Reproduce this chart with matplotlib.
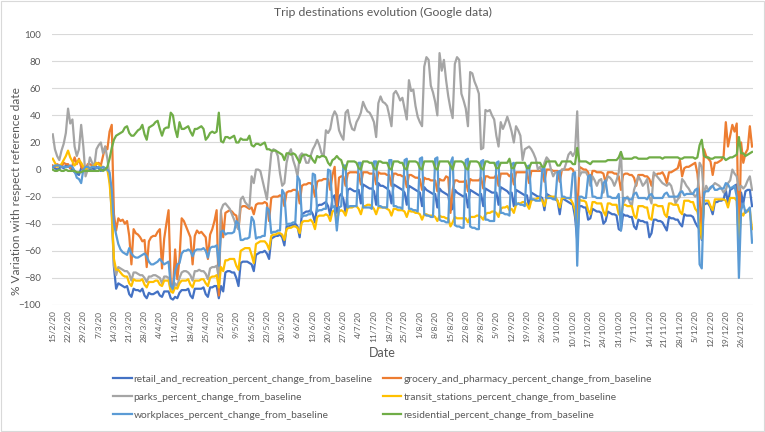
import matplotlib
matplotlib.use('Agg')
import matplotlib.pyplot as plt
import pandas as pd
from matplotlib.patches import Rectangle

plt.rcParams['font.family'] = ['Lato', 'DejaVu Sans']

# daily values, one row per week (Sat..Fri), starting 15/2/2020
retail = [
    2, 1, 0, 1, 2, 1, 3,
    3, 1, 0, -2, -3, -4, 1,
    2, 0, 1, 0, 1, 0, 2,
    1, -1, 0, 1, 0, -5, -28,
    -72, -88, -84, -85, -86, -87, -86,
    -92, -94, -88, -89, -89, -90, -88,
    -93, -95, -91, -92, -92, -91, -90,
    -93, -94, -90, -90, -90, -95, -96,
    -94, -95, -91, -89, -89, -89, -88,
    -93, -95, -88, -88, -88, -88, -87,
    -92, -94, -87, -87, -86, -86, -95,
    -86, -90, -76, -75, -75, -76, -76,
    -80, -86, -69, -68, -68, -68, -69,
    -70, -75, -63, -62, -61, -61, -60,
    -62, -66, -51, -50, -49, -49, -48,
    -50, -56, -42, -42, -41, -41, -40,
    -42, -50, -33, -32, -31, -31, -30,
    -33, -39, -27, -26, -26, -25, -24,
    -27, -34, -21, -19, -32, -20, -18,
    -22, -32, -15, -14, -15, -16, -16,
    -15, -25, -11, -12, -13, -14, -14,
    -16, -26, -10, -12, -12, -13, -14,
    -16, -25, -11, -12, -13, -14, -15,
    -17, -26, -12, -13, -14, -15, -16,
    -17, -27, -13, -15, -16, -17, -18,
    -18, -28, -14, -16, -17, -18, -19,
    -30, -29, -15, -17, -18, -19, -20,
    -18, -28, -15, -16, -17, -18, -19,
    -18, -27, -14, -15, -16, -17, -17,
    -17, -26, -13, -14, -15, -16, -18,
    -17, -27, -15, -16, -17, -18, -19,
    -19, -28, -17, -18, -19, -20, -20,
    -21, -30, -18, -19, -20, -21, -22,
    -23, -33, -21, -22, -23, -24, -25,
    -26, -35, -52, -27, -27, -28, -28,
    -37, -36, -29, -30, -31, -31, -32,
    -40, -38, -31, -32, -33, -33, -34,
    -44, -45, -33, -34, -34, -35, -35,
    -42, -44, -37, -38, -38, -39, -39,
    -50, -47, -37, -37, -38, -38, -39,
    -42, -45, -35, -36, -36, -37, -37,
    -40, -42, -33, -34, -34, -34, -35,
    -39, -42, -44, -52, -26, -25, -25,
    -28, -33, -24, -24, -23, -23, -22,
    -15, -25, -15, -14, -12, -11, -60,
    -17, -25, -16, -15, -15, -27,
]
grocery = [
    3, 2, 4, 3, 2, 5, 4,
    4, 1, 3, 9, 4, 8, 2,
    0, 0, 4, 4, 3, 2, 4,
    5, 3, 10, 17, 15, 28, 33,
    -33, -45, -36, -38, -37, -40, -38,
    -49, -70, -44, -47, -48, -50, -53,
    -52, -72, -53, -50, -49, -49, -46,
    -44, -73, -51, -40, -30, -84, -88,
    -59, -81, -66, -36, -38, -42, -46,
    -50, -70, -49, -45, -47, -46, -48,
    -50, -66, -48, -44, -38, -30, -93,
    -32, -50, -32, -31, -30, -31, -33,
    -34, -44, -28, -27, -27, -28, -29,
    -28, -33, -26, -25, -25, -25, -24,
    -25, -38, -21, -20, -20, -20, -19,
    -20, -27, -17, -16, -16, -15, -15,
    -16, -25, -12, -11, -11, -10, -10,
    -12, -20, -9, -8, -8, -7, -7,
    -7, -15, -4, 2, -27, -6, -5,
    -5, -12, -3, -2, -2, -2, -2,
    -3, -11, -2, -2, -2, -3, -3,
    -3, -11, -2, -3, -3, -3, -4,
    -4, -12, -3, -3, -4, -4, -5,
    -5, -13, -4, -4, -5, -6, -6,
    -7, -15, -6, -7, -7, -8, -8,
    -8, -16, -7, -8, -8, -5, -6,
    -32, -15, -8, -8, -9, -9, -9,
    -8, -16, -7, -8, -8, -8, -8,
    -6, -14, -5, -5, -6, -6, -6,
    -4, -12, -3, -3, -3, -3, -5,
    -3, -11, -2, -2, -2, -2, -2,
    -2, -10, -1, -1, -1, -1, -1,
    -1, -9, 0, 0, 0, -1, -1,
    -1, -9, 0, 0, 0, 0, 1,
    0, -5, -35, 2, 1, 0, 0,
    -2, -9, -1, -1, -2, -2, -2,
    -3, -10, -2, -2, -2, -3, -3,
    -5, -15, -4, -3, -3, -4, -4,
    -6, -12, -4, -4, -4, -5, -5,
    -7, -12, -4, -4, -3, -3, -2,
    -5, -10, -2, -2, -1, 0, 1,
    7, -5, 1, 2, 2, 3, 4,
    5, -3, -20, -49, 15, 10, 8,
    6, -4, 5, 5, 6, 7, 10,
    35, 17, 25, 33, 28, 34, -60,
    20, 5, 12, 15, 32, 17,
]
parks = [
    26, 15, 10, 7, 14, 19, 27,
    45, 34, 37, 17, 10, 15, 33,
    17, -5, 0, 9, 5, 2, 15,
    18, 20, 12, 17, 8, -5, -34,
    -71, -78, -72, -73, -74, -75, -75,
    -77, -82, -76, -76, -77, -78, -78,
    -80, -83, -79, -79, -78, -78, -79,
    -80, -84, -79, -79, -80, -88, -89,
    -84, -86, -80, -76, -75, -75, -76,
    -78, -82, -75, -75, -74, -75, -75,
    -77, -81, -73, -72, -72, -71, -80,
    -30, -26, -25, -27, -29, -33, -37,
    -42, -44, -22, -20, -24, -26, -28,
    -5, -10, 0, 0, -1, -8, -15,
    -22, -5, 12, 15, 14, 10, -3,
    -12, -10, 5, 12, 15, 7, 2,
    -5, 10, 12, 10, 5, 5, 10,
    15, 18, 22, 18, 12, 10, 29,
    27, 30, 39, 43, 40, 29, 25,
    22, 42, 44, 35, 30, 29, 35,
    38, 42, 50, 46, 43, 42, 39,
    35, 24, 49, 54, 50, 49, 47,
    40, 32, 56, 58, 55, 51, 53,
    45, 37, 66, 58, 59, 47, 39,
    35, 32, 76, 83, 81, 62, 57,
    50, 40, 86, 73, 81, 66, 54,
    45, 38, 78, 83, 81, 56, 51,
    45, 32, 72, 71, 65, 61, 56,
    15, 16, 44, 43, 44, 40, 37,
    25, 17, 35, 30, 34, 39, 34,
    28, 20, 32, 29, 25, 7, 15,
    16, 17, 15, 12, 8, 0, 2,
    -2, 5, 9, 7, 0, -5, -2,
    -2, -2, 0, 0, 5, 11, 13,
    10, 13, 43, -5, -2, -2, -2,
    -5, -12, -5, -8, -12, -8, -7,
    -17, -10, -5, -6, -8, -12, -8,
    -2, 13, -25, -22, -20, -24, -27,
    -15, -10, -5, -8, -12, -10, -7,
    -20, -25, -2, -4, -6, -8, -10,
    -11, -12, -10, -12, -18, -25, -22,
    -20, -7, -9, -12, -14, -17, -18,
    -20, -18, 5, 2, -20, -12, -15,
    -14, -12, -10, -11, -12, -14, -17,
    -15, -10, -8, 0, -3, -5, -15,
    -12, -14, -12, -8, -5, -15,
]
transit = [
    8, 5, 2, 3, 4, 7, 10,
    14, 9, 6, 3, 5, 7, 5,
    2, 0, 2, 1, 2, 3, 5,
    4, 2, 2, 1, 0, -10, -30,
    -66, -74, -74, -76, -78, -79, -79,
    -84, -86, -81, -82, -82, -82, -81,
    -85, -87, -83, -83, -83, -82, -82,
    -85, -86, -82, -82, -82, -90, -91,
    -87, -88, -84, -82, -82, -82, -81,
    -85, -87, -82, -82, -82, -81, -81,
    -84, -86, -80, -79, -79, -78, -87,
    -72, -75, -67, -67, -66, -66, -66,
    -71, -74, -60, -59, -58, -58, -58,
    -63, -69, -55, -54, -53, -53, -53,
    -55, -59, -49, -48, -48, -47, -47,
    -48, -52, -44, -43, -43, -42, -42,
    -43, -47, -39, -38, -38, -38, -37,
    -39, -44, -35, -34, -34, -34, -33,
    -34, -38, -31, -30, -38, -31, -30,
    -31, -34, -28, -28, -28, -27, -27,
    -29, -33, -27, -27, -26, -26, -27,
    -29, -33, -28, -28, -28, -28, -29,
    -30, -34, -29, -29, -30, -30, -30,
    -31, -35, -30, -31, -31, -32, -32,
    -33, -37, -33, -33, -34, -34, -34,
    -35, -38, -34, -35, -35, -36, -36,
    -42, -39, -35, -36, -36, -36, -36,
    -36, -39, -35, -35, -35, -34, -34,
    -35, -37, -33, -32, -32, -31, -31,
    -32, -35, -29, -28, -28, -27, -30,
    -29, -32, -26, -25, -25, -24, -24,
    -26, -29, -23, -22, -22, -21, -21,
    -23, -27, -21, -20, -20, -20, -20,
    -23, -28, -21, -21, -21, -21, -22,
    -25, -30, -45, -22, -23, -23, -24,
    -30, -33, -24, -24, -25, -25, -25,
    -31, -34, -25, -25, -26, -26, -26,
    -33, -34, -26, -26, -27, -27, -27,
    -34, -36, -27, -27, -27, -28, -28,
    -36, -37, -26, -26, -27, -27, -27,
    -33, -35, -25, -25, -26, -26, -26,
    -31, -33, -23, -23, -23, -24, -24,
    -29, -31, -40, -51, -23, -23, -23,
    -27, -30, -22, -22, -22, -22, -22,
    -23, -28, -21, -21, -21, -23, -54,
    -32, -34, -30, -31, -30, -44,
]
workplaces = [
    2, 3, 3, 3, 2, 2, 2,
    2, 3, 2, -1, -6, -7, -10,
    0, 2, 2, 1, 2, 2, 1,
    2, 1, 2, 1, 0, -2, -15,
    -40, -48, -55, -59, -61, -62, -63,
    -58, -62, -64, -65, -65, -64, -63,
    -62, -64, -68, -70, -70, -69, -68,
    -66, -68, -70, -69, -68, -86, -88,
    -75, -70, -69, -62, -60, -60, -59,
    -60, -64, -60, -59, -59, -59, -58,
    -60, -65, -58, -57, -57, -56, -71,
    -46, -45, -48, -47, -47, -47, -46,
    -38, -40, -52, -52, -51, -51, -50,
    -35, -38, -51, -50, -50, -49, -49,
    -28, -30, -47, -46, -46, -45, -45,
    -15, -18, -41, -40, -40, -39, -39,
    -5, -8, -35, -34, -34, -33, -33,
    -3, -4, -31, -30, -30, -29, -29,
    0, -1, -28, -27, -45, -28, -27,
    3, 3, -28, -27, -27, -27, -27,
    5, 5, -28, -28, -28, -28, -29,
    6, 6, -27, -27, -28, -28, -28,
    7, 7, -27, -27, -28, -28, -29,
    7, 8, -29, -29, -30, -30, -31,
    8, 9, -33, -34, -34, -35, -35,
    8, 9, -37, -38, -38, -39, -39,
    5, 9, -41, -42, -42, -43, -43,
    7, 8, -42, -43, -43, -44, -44,
    6, 7, -37, -37, -38, -38, -38,
    5, 6, -32, -32, -33, -33, -34,
    4, 5, -26, -25, -26, -26, -27,
    2, 3, -22, -22, -23, -23, -23,
    0, 1, -21, -21, -21, -22, -22,
    -2, -1, -20, -20, -21, -21, -21,
    -3, -2, -71, -20, -20, -21, -21,
    -5, -4, -20, -20, -21, -21, -21,
    -10, -8, -20, -20, -21, -21, -21,
    -18, -45, -21, -21, -21, -22, -22,
    -18, -17, -21, -21, -21, -21, -22,
    -19, -18, -21, -21, -21, -21, -21,
    -18, -17, -20, -20, -20, -20, -20,
    -17, -16, -19, -18, -18, -18, -18,
    -15, -14, -70, -73, -17, -16, -16,
    -13, -12, -15, -15, -14, -14, -14,
    -10, -11, -14, -13, -12, -20, -80,
    -30, -25, -32, -30, -28, -54,
]
residential = [
    0, -1, -1, 0, -1, -1, 0,
    -1, -1, -1, -1, -2, -2, -2,
    -1, -1, -1, -1, -1, -1, -1,
    -1, 0, -1, 0, 2, 8, 16,
    22, 25, 26, 27, 28, 31, 32,
    27, 25, 25, 27, 29, 30, 33,
    26, 22, 31, 32, 33, 35, 36,
    30, 25, 30, 31, 31, 42, 40,
    30, 24, 35, 30, 30, 31, 32,
    28, 25, 30, 30, 31, 32, 30,
    22, 24, 27, 28, 27, 28, 42,
    21, 20, 24, 24, 23, 24, 25,
    20, 20, 23, 22, 22, 22, 25,
    18, 17, 19, 19, 18, 19, 20,
    15, 15, 14, 14, 14, 13, 12,
    11, 7, 12, 12, 11, 12, 11,
    8, 5, 10, 11, 11, 10, 10,
    7, 5, 10, 9, 10, 10, 9,
    5, 3, 7, 8, 10, 8, 7,
    2, 0, 6, 6, 6, 6, 5,
    1, 0, 6, 6, 6, 5, 5,
    1, 0, 6, 6, 5, 5, 5,
    1, 0, 6, 6, 6, 5, 5,
    1, 0, 6, 6, 6, 6, 5,
    1, 0, 6, 6, 6, 6, 6,
    1, 0, 6, 6, 6, 6, 6,
    3, 0, 6, 6, 6, 6, 5,
    1, 0, 6, 6, 6, 6, 5,
    1, 0, 6, 6, 5, 5, 5,
    1, 1, 5, 5, 5, 5, 8,
    1, 1, 5, 5, 5, 5, 5,
    1, 1, 5, 5, 5, 5, 5,
    2, 2, 6, 6, 6, 6, 6,
    3, 3, 6, 6, 6, 6, 6,
    4, 4, 16, 6, 6, 6, 6,
    5, 4, 6, 6, 6, 6, 6,
    6, 6, 7, 7, 7, 7, 7,
    9, 13, 8, 8, 8, 8, 8,
    9, 9, 8, 8, 8, 8, 8,
    9, 9, 9, 9, 9, 9, 8,
    9, 9, 9, 9, 9, 9, 9,
    8, 8, 9, 9, 9, 9, 9,
    8, 9, 18, 22, 10, 9, 9,
    8, 8, 9, 9, 9, 9, 9,
    7, 8, 9, 9, 10, 11, 24,
    12, 12, 10, 11, 12, 13,
]

series_names = [
    'retail_and_recreation_percent_change_from_baseline',
    'grocery_and_pharmacy_percent_change_from_baseline',
    'parks_percent_change_from_baseline',
    'transit_stations_percent_change_from_baseline',
    'workplaces_percent_change_from_baseline',
    'residential_percent_change_from_baseline',
]
series_values = [retail, grocery, parks, transit, workplaces, residential]
colors = ['#4472C4', '#ED7D31', '#A5A5A5', '#FFC000', '#5B9BD5', '#70AD47']

dates = pd.date_range('2020-02-15', periods=len(retail), freq='D')
tick_dates = dates[::7]
tick_labels = [f'{d.day}/{d.month}/20' for d in tick_dates]

txt = '#595959'
fig = plt.figure(figsize=(7.65, 4.32), dpi=100)
ax = fig.add_axes([0.068, 0.294, 0.916, 0.627])

lines = []
for name, vals, c in zip(series_names, series_values, colors):
    ln, = ax.plot(dates, vals, color=c, lw=1.6, label=name, solid_joinstyle='round')
    lines.append(ln)

ax.set_ylim(-100, 100)
ax.set_yticks(range(-100, 101, 20))
ax.set_xlim(dates[0] - pd.Timedelta(hours=8), dates[-1] + pd.Timedelta(hours=8))
ax.set_xticks(tick_dates)
ax.set_xticklabels(tick_labels, rotation=90, fontsize=6, color=txt)
ax.tick_params(axis='y', labelsize=7, colors=txt, length=0, pad=8)
ax.tick_params(axis='x', length=0, pad=4)
ax.grid(axis='y', color='#D9D9D9', lw=0.8)
ax.set_axisbelow(True)
for s in ax.spines.values():
    s.set_visible(False)

fig.text(0.5, 1 - 12 / 432, 'Trip destinations evolution (Google data)', fontsize=8.8,
         color=txt, ha='center', va='center')
ax.set_ylabel('% Variation with respect reference date', fontsize=8.6, color=txt)
ax.yaxis.set_label_coords(-0.043, 0.42)
ax.set_xlabel('Date', fontsize=9, color=txt)
ax.xaxis.set_label_coords(0.471, -0.155)

order = [0, 2, 4, 1, 3, 5]
leg = fig.legend([lines[i] for i in order], [series_names[i] for i in order],
                 loc='center', bbox_to_anchor=(0.5, 0.081), ncol=2, frameon=False,
                 fontsize=7.4, handlelength=1.8, handletextpad=0.2, columnspacing=1.0,
                 labelspacing=0.85, labelcolor=txt)

fig.patches.append(Rectangle((0.001, 0.002), 0.998, 0.996, transform=fig.transFigure,
                             fill=False, edgecolor='#D9D9D9', lw=0.8))

fig.savefig('out.png', dpi=100, facecolor='white')
